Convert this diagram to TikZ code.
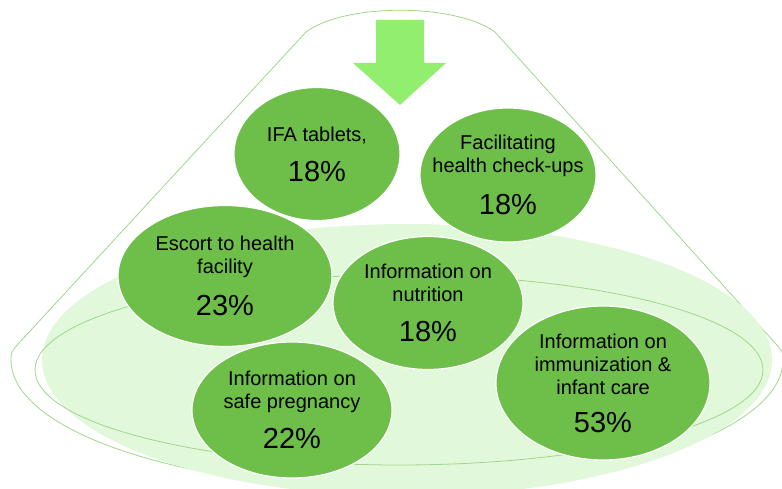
\documentclass[tikz,border=0pt]{standalone}
\usepackage{fontspec}
\setmainfont{Liberation Sans}
\usetikzlibrary{shapes.geometric}
\definecolor{bubblegreen}{RGB}{110,190,74}
\definecolor{arrowgreen}{RGB}{146,238,110}
\definecolor{platefill}{RGB}{226,248,218}
\definecolor{rimline}{RGB}{160,214,140}
\newcommand{\lblfont}{\fontsize{20}{23}\selectfont}
\newcommand{\pctfont}{\fontsize{29}{33}\selectfont}

\begin{document}
\begin{tikzpicture}
		[x=1pt, y=-1pt,
		bubble/.style={
			ellipse,
			draw=white,
			line width=1.2pt,
			fill=bubblegreen,
			inner sep=0pt
		},
		blabel/.style={align=center, font=\lblfont, inner sep=0pt},
		rim/.style={draw=rimline, line width=0.8pt}]
		\useasboundingbox (0,0) rectangle (782,489);
		\clip (0,0) rectangle (782,489);
		% funnel outline
		\draw[rim] (306,32) .. controls (345,3) and (455,3) .. (495,32)
			-- (775,343) .. controls (783,352) .. (783,360)
			arc[start angle=0, end angle=180, x radius=386, y radius=129]
			.. controls (11,352) .. (19,343) -- cycle;
		% plate
		\fill[platefill] (407,360) ellipse (365 and 136);
		\draw[rim] (399,370) ellipse (364 and 95);
		% arrow
		\fill[arrowgreen] (376,20) -- (424,20) -- (424,63) -- (446,63)
			-- (400,105) -- (353,63) -- (376,63) -- cycle;
		% bubbles
		\node[bubble, minimum width=166pt, minimum height=133pt] (ifa) at (317,154) {};
		\node[blabel] (ifa-t) at (ifa.center) {IFA tablets,\\[17pt]{\pctfont 18\%}};
		\node[bubble, minimum width=176pt, minimum height=134pt] (checkup) at (508,175) {};
		\node[blabel] (checkup-t) at (checkup.center) {Facilitating\\health check-ups\\[17pt]{\pctfont 18\%}};
		\node[bubble, minimum width=214pt, minimum height=141pt] (escort) at (225,276) {};
		\node[blabel] (escort-t) at (escort.center) {Escort to health\\facility\\[17pt]{\pctfont 23\%}};
		\node[bubble, minimum width=190pt, minimum height=133pt] (nutrition) at (428,303) {};
		\node[blabel] (nutrition-t) at (nutrition.center) {Information on\\nutrition\\[17pt]{\pctfont 18\%}};
		\node[bubble, minimum width=200pt, minimum height=136pt] (pregnancy) at (292,410) {};
		\node[blabel] (pregnancy-t) at (pregnancy.center) {Information on\\safe pregnancy\\[15pt]{\pctfont 22\%}};
		\node[bubble, minimum width=214pt, minimum height=154pt] (immun) at (603,383) {};
		\node[blabel] (immun-t) at (immun.center) {Information on\\immunization \&\\infant care\\[15pt]{\pctfont 53\%}};
\end{tikzpicture}
\end{document}
